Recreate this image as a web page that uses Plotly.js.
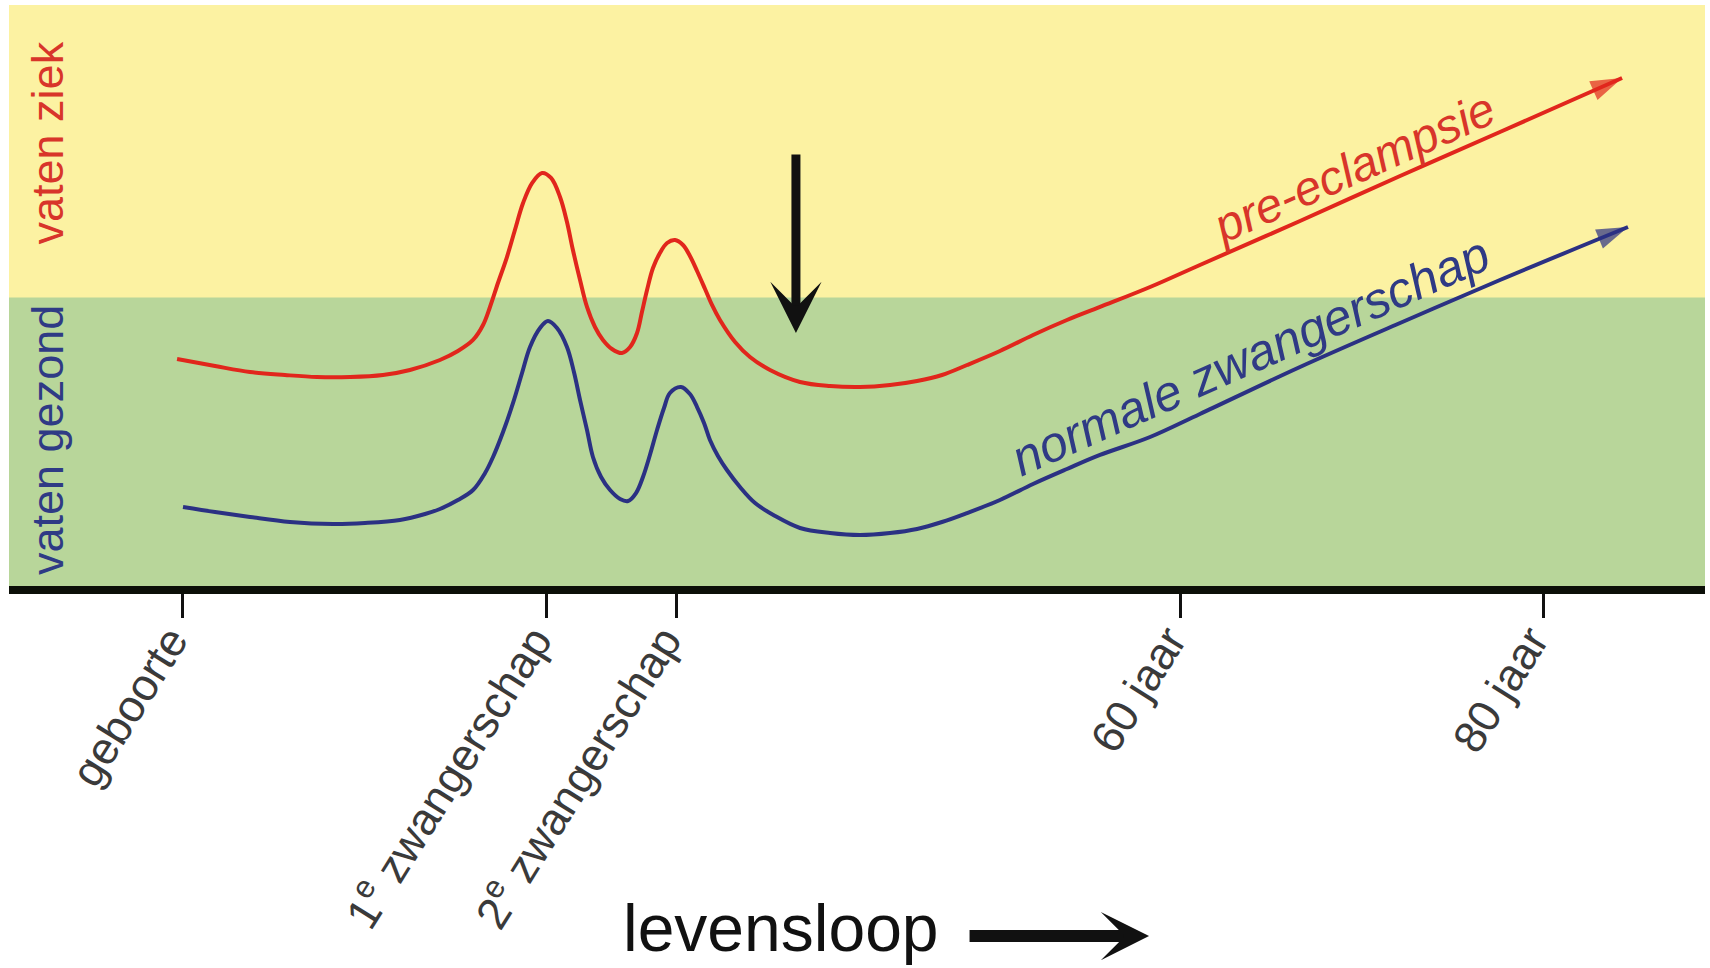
<!DOCTYPE html>
<html>
<head>
<meta charset="utf-8">
<script src="https://cdn.plot.ly/plotly-3.0.1.min.js"></script>
<style>html,body{margin:0;padding:0;background:#fff;}#chart{width:1710px;height:968px;}</style>
</head>
<body>
<div id="chart"></div>
<script>
// Tick positions along the life course (abstract units 0..100) and their labels
const tickValues = [10.23, 31.69, 39.33, 69.09, 90.45];
const tickLabels = ['geboorte', '1<sup>e</sup> zwangerschap', '2<sup>e</sup> zwangerschap', '60 jaar', '80 jaar'];

// Vascular condition (0 = healthy bottom, 100 = sick top); 50 = boundary
const zoneNames = ['vaten gezond', 'vaten ziek'];
const zoneBounds = [0, 50, 100];

// Pre-eclampsia curve
const redX = [9.91, 12.15, 14.21, 16.27, 18.16, 20.11, 22.05, 23.64, 25.41, 26.47,
  27.36, 27.95, 28.36, 28.83, 29.36, 29.83, 30.31, 30.84, 31.43, 31.96,
  32.49, 32.90, 33.25, 33.67, 34.08, 34.55, 35.02, 35.55, 36.14, 36.62,
  37.03, 37.32, 37.62, 37.97, 38.38, 38.80, 39.27, 39.74, 40.15, 40.57,
  41.04, 41.45, 41.92, 42.81, 43.69, 44.87, 46.64, 48.41, 50.18, 51.95,
  53.54, 55.01, 56.49, 58.43, 60.38, 62.38, 64.33, 67.28, 70.22, 76.12,
  82.02, 87.91, 95.11];
const redY = [39.49, 38.29, 37.26, 36.75, 36.41, 36.41, 36.75, 37.61, 39.32, 40.85,
  42.74, 45.30, 48.38, 52.48, 56.92, 61.54, 66.15, 69.57, 71.28, 70.43,
  67.18, 62.91, 58.12, 52.99, 48.38, 44.96, 42.74, 41.20, 40.51, 41.54,
  43.93, 47.52, 51.28, 55.04, 57.61, 59.32, 59.83, 58.97, 57.09, 54.53,
  51.45, 48.72, 46.15, 42.39, 39.83, 37.61, 35.56, 34.87, 34.70, 35.04,
  35.73, 36.75, 38.46, 40.85, 43.59, 46.15, 48.38, 51.79, 55.56, 63.08,
  70.77, 78.29, 87.52];

// Normal pregnancy curve
const blueX = [10.26, 12.15, 14.21, 16.57, 19.10, 20.99, 23.05, 24.53, 25.41, 26.47,
  27.36, 28.07, 28.54, 29.13, 29.72, 30.25, 30.72, 31.31, 31.78, 32.31,
  32.90, 33.31, 33.67, 34.08, 34.43, 34.91, 35.44, 36.03, 36.50, 36.97,
  37.38, 37.79, 38.21, 38.62, 38.97, 39.62, 40.15, 40.57, 40.98, 41.33,
  41.80, 42.33, 43.10, 43.99, 45.17, 46.64, 48.41, 50.18, 51.95, 53.54,
  55.01, 56.49, 58.43, 60.38, 62.38, 64.33, 67.28, 70.22, 76.12, 82.02,
  87.91, 95.46];
const blueY = [14.19, 13.33, 12.48, 11.62, 11.28, 11.45, 11.97, 12.99, 13.85, 15.38,
  17.09, 20.00, 22.74, 27.01, 31.97, 37.09, 41.54, 44.79, 45.98, 44.79,
  41.54, 37.26, 32.48, 27.35, 22.74, 19.32, 17.09, 15.56, 15.21, 16.58,
  19.32, 23.08, 27.35, 31.11, 33.68, 34.70, 33.50, 31.28, 28.55, 25.64,
  22.91, 20.51, 17.61, 14.87, 12.65, 10.60, 9.74, 9.40, 9.74, 10.43,
  11.62, 13.16, 15.38, 18.12, 20.68, 23.08, 26.15, 30.09, 38.12, 45.64,
  52.99, 62.05];

// Marker arrow (after 1e/2e pregnancy): x position, tail and tip heights
const markerArrowX = 46.40;
const markerArrowY = [74.70, 43.93];

const seriesNames = ['pre-eclampsie', 'normale zwangerschap'];
const axisTitle = 'levensloop';

const RED = '#e1261c';
const BLUE = '#2b3183';
const FONT = 'Liberation Sans, Arial, Helvetica, sans-serif';

function headSizes(n, s) { return Array.from({length: n}, (_, i) => i === n - 1 ? s : 0); }

const traces = [
  {
    x: redX, y: redY, name: seriesNames[0], mode: 'lines+markers',
    line: {color: RED, width: 4, shape: 'spline', smoothing: 1},
    marker: {symbol: 'arrow', angleref: 'previous', size: headSizes(redX.length, 33), color: RED, line: {width: 0}},
    hoverinfo: 'skip', showlegend: false
  },
  {
    x: blueX, y: blueY, name: seriesNames[1], mode: 'lines+markers',
    line: {color: BLUE, width: 4, shape: 'spline', smoothing: 1},
    marker: {symbol: 'arrow', angleref: 'previous', size: headSizes(blueX.length, 33), color: BLUE, line: {width: 0}},
    hoverinfo: 'skip', showlegend: false
  }
];

const layout = {
  width: 1710, height: 968,
  margin: {l: 9, r: 5, t: 5, b: 378},
  paper_bgcolor: '#ffffff',
  plot_bgcolor: '#b8d69a',
  showlegend: false,
  font: {family: FONT},
  xaxis: {
    range: [0, 100], showgrid: false, zeroline: false, showline: false,
    tickmode: 'array', tickvals: tickValues, ticktext: tickLabels,
    ticks: 'outside', ticklen: 27, tickwidth: 3, tickcolor: '#111',
    tickangle: -58, tickfont: {size: 45, color: '#3a3a3a', family: FONT},
    ticklabelshift: -12, ticklabelstandoff: -22,
    fixedrange: true
  },
  yaxis: {range: [0, 100], visible: false, fixedrange: true},
  shapes: [
    {type: 'rect', xref: 'paper', yref: 'y', x0: 0, x1: 1, y0: zoneBounds[0], y1: zoneBounds[1], fillcolor: '#b8d69a', line: {width: 0}, layer: 'below'},
    {type: 'rect', xref: 'paper', yref: 'y', x0: 0, x1: 1, y0: zoneBounds[1], y1: zoneBounds[2], fillcolor: '#fcf2a2', line: {width: 0}, layer: 'below'},
    {type: 'line', xref: 'paper', yref: 'paper', x0: 0, x1: 1, y0: 0, y1: 0, line: {color: '#0c0f08', width: 8}, layer: 'above'}
  ],
  annotations: [
    {xref: 'paper', yref: 'paper', x: 0.0224, y: 0.765, xanchor: 'center', yanchor: 'middle', text: zoneNames[1], textangle: -90, showarrow: false,
     font: {size: 45, color: '#d8352a', family: FONT}},
    {xref: 'paper', yref: 'paper', x: 0.0224, y: 0.2564, xanchor: 'center', yanchor: 'middle', text: zoneNames[0], textangle: -90, showarrow: false,
     font: {size: 45, color: '#2f3a85', family: FONT}},
    {xref: 'x', yref: 'y', x: 79.30, y: 72.2, xanchor: 'center', yanchor: 'middle', text: '<i>' + seriesNames[0] + '</i>', textangle: -24, showarrow: false,
     font: {size: 48, color: '#d8352a', family: FONT}},
    {xref: 'x', yref: 'y', x: 73.23, y: 40.0, xanchor: 'center', yanchor: 'middle', text: '<i>' + seriesNames[1] + '</i>', textangle: -24, showarrow: false,
     font: {size: 50, color: '#2f3a85', family: FONT}},
    {xref: 'x', yref: 'y', axref: 'x', ayref: 'y', x: markerArrowX, y: markerArrowY[1], ax: markerArrowX, ay: markerArrowY[0],
     text: '', showarrow: true, arrowhead: 3, arrowsize: 0.95, arrowwidth: 9, arrowcolor: '#111'},
    {xref: 'paper', yref: 'paper', x: 0.4552, y: -0.577, xanchor: 'center', yanchor: 'middle', text: axisTitle, showarrow: false,
     font: {size: 66, color: '#111', family: FONT}},
    {xref: 'paper', yref: 'paper', x: 0.6722, y: -0.5915, ax: -181, ay: 0, text: '', showarrow: true,
     arrowhead: 3, arrowsize: 0.67, arrowwidth: 12, arrowcolor: '#111'}
  ]
};

Plotly.newPlot('chart', traces, layout, {displayModeBar: false, staticPlot: true});
</script>
</body>
</html>
